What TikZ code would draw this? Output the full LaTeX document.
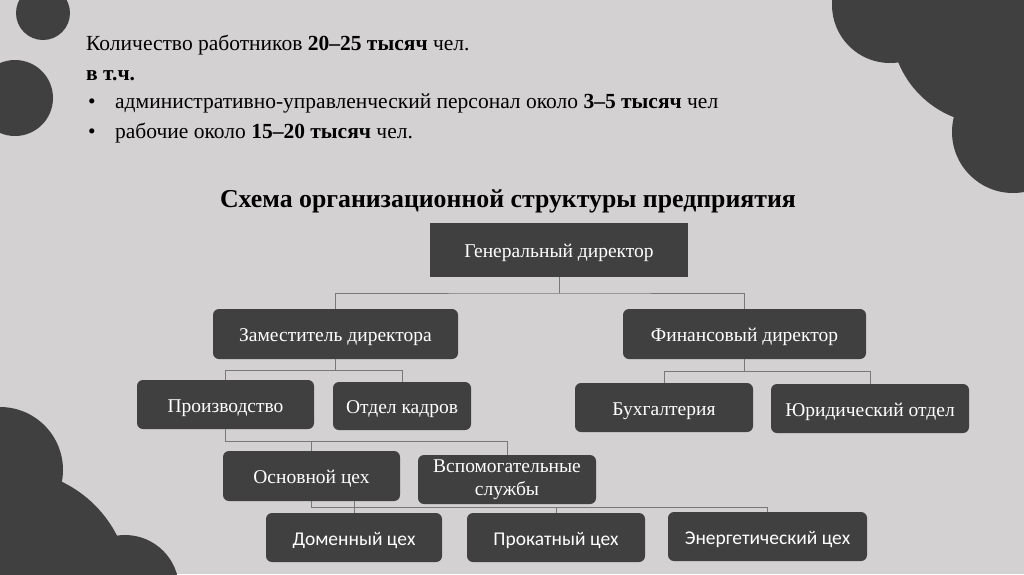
\documentclass[tikz,border=0pt]{standalone}
\usepackage{fontspec}
\setmainfont{Liberation Serif}
\newfontfamily\calibri{Carlito}
\definecolor{bg}{RGB}{211,209,210}
\definecolor{dark}{RGB}{64,64,64}
\definecolor{conn}{RGB}{120,120,120}
\tikzset{
  basebox/.style={fill=dark, text=white, inner sep=0pt, align=center, rounded corners=6pt,
    font=\fontsize{19.5}{21}\selectfont},
  box/.style={basebox, text height=18pt, text depth=3pt},
  sbox/.style={box, font=\calibri\fontsize{19.5}{21}\selectfont},
  link/.style={draw=conn, line width=0.9pt},
  txt/.style={anchor=base west, inner sep=0pt, font=\fontsize{21.5}{24}\selectfont}
}
\begin{document}
\begin{tikzpicture}[x=1pt,y=-1pt]
\useasboundingbox (0,0) rectangle (1024,574);
\fill[bg] (0,0) rectangle (1024,574);
\begin{scope}
\clip (0,0) rectangle (1024,574);
\fill[dark] (43,13) circle (27);
\fill[dark] (15,98) circle (38);
\fill[dark] (890,5) circle (58);
\fill[dark] (990,25) circle (99);
\fill[dark] (1013,132) circle (61);
\fill[dark] (0,470) circle (63);
\fill[dark] (10,590) circle (120);
\fill[dark] (125,589) circle (54);
\end{scope}

% top text
\node[txt] (t1) at (86,50) {Количество работников \textbf{20–25 тысяч} чел.};
\node[txt] (t2) at (86,80) {\textbf{в т.ч.}};
\node[txt] (b1) at (88,108) {•};
\node[txt] (t3) at (115,108) {административно-управленческий персонал около \textbf{3–5 тысяч} чел};
\node[txt] (b2) at (88,138) {•};
\node[txt] (t4) at (115,138) {рабочие около \textbf{15–20 тысяч} чел.};

\node[inner sep=0pt, font=\bfseries\fontsize{25.8}{28}\selectfont] (title) at (508,201) {Схема организационной структуры предприятия};

% boxes
\node[box, rounded corners=0pt, minimum width=258, minimum height=54] (gen) at (559,250) {Генеральный директор};
\node[box, minimum width=245, minimum height=50] (zam) at (335.5,334) {Заместитель директора};
\node[box, minimum width=243, minimum height=50] (fin) at (744.5,334) {Финансовый директор};
\node[box, minimum width=177, minimum height=49] (proizv) at (225.5,404.5) {Производство};
\node[box, minimum width=138, minimum height=48] (kadr) at (402,406) {Отдел кадров};
\node[box, minimum width=178, minimum height=49] (buh) at (664,407.5) {Бухгалтерия};
\node[box, minimum width=198, minimum height=49] (yur) at (870,408.5) {Юридический отдел};
\node[box, minimum width=177, minimum height=50] (osn) at (311.5,476) {Основной цех};
\node[basebox, minimum width=178, minimum height=49, font=\fontsize{19.5}{23.5}\selectfont] (vsp) at (507,479.5) {Вспомогательные\\службы};
\node[sbox, minimum width=176, minimum height=49] (dom) at (354,537.5) {Доменный цех};
\node[sbox, minimum width=178, minimum height=49] (prok) at (556,537.5) {Прокатный цех};
\node[sbox, minimum width=199, minimum height=49] (energ) at (767.5,536.5) {Энергетический цех};

% connectors
\coordinate (c1) at (559,293);
\draw[link] (gen.south) -- (c1);
\draw[link] (zam.north) |- (c1) -| (fin.north);
\coordinate (c2) at (335.5,370);
\draw[link] (zam.south) -- (c2);
\draw[link] (proizv.north) |- (c2) -| (kadr.north);
\coordinate (c3) at (744.5,371);
\draw[link] (fin.south) -- (c3);
\draw[link] (buh.north) |- (c3) -| (yur.north);
\coordinate (c4) at (311.5,441);
\draw[link] (proizv.south) |- (c4) -| (vsp.north);
\draw[link] (c4) -- (osn.north);
\coordinate (c5) at (311.5,507);
\draw[link] (osn.south) -- (c5) -| (energ.north);
\draw[link] (osn.south -| dom.north) -- (dom.north);
\draw[link] (prok.north |- c5) -- (prok.north);
\end{tikzpicture}
\end{document}
